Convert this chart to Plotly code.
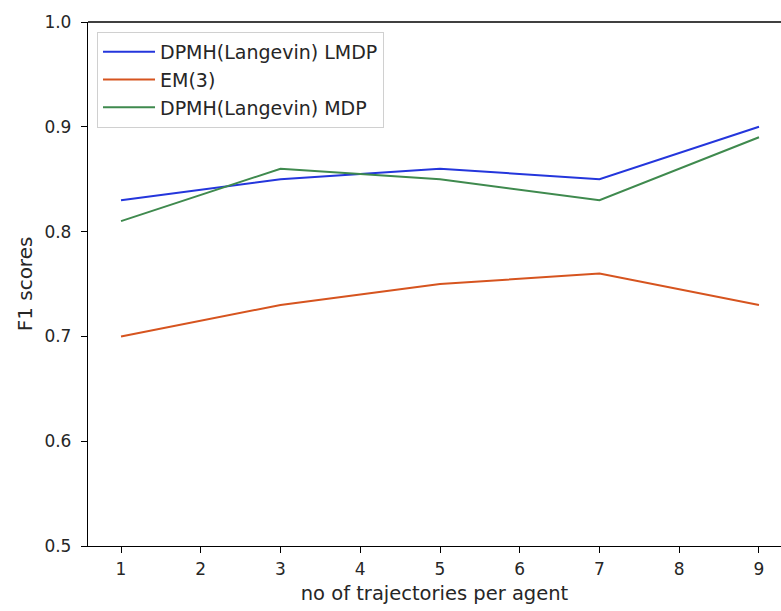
import plotly.graph_objects as go

x_vals = [1, 3, 5, 7, 9]
lmdp = [0.83, 0.85, 0.86, 0.85, 0.90]
em3 = [0.70, 0.73, 0.75, 0.76, 0.73]
mdp = [0.81, 0.86, 0.85, 0.83, 0.89]

names = ["DPMH(Langevin) LMDP", "EM(3)", "DPMH(Langevin) MDP"]
colors = ["#2436dc", "#d6541f", "#3f8a4e"]
series = [lmdp, em3, mdp]

fig = go.Figure()
for i, (n, c, s) in enumerate(zip(names, colors, series)):
    fig.add_trace(go.Scatter(x=x_vals, y=s, mode="lines", name=n,
                             line=dict(color=c, width=2), legendgroup=str(i)))

font_family = "DejaVu Sans"
fig.update_layout(
    width=781, height=611,
    margin=dict(l=88, r=0, t=22, b=65),
    plot_bgcolor="white", paper_bgcolor="white",
    font=dict(family=font_family, size=17, color="#262626"),
    showlegend=True,
    legend=dict(x=0.013, y=0.981, xanchor="left", yanchor="top",
                bgcolor="rgba(255,255,255,0.8)", bordercolor="#d0d0d0", borderwidth=1,
                font=dict(size=19, color="#262626"), tracegroupgap=5,
                itemwidth=52, traceorder="normal"),
    xaxis=dict(range=[0.586, 9.276], tickvals=list(range(1, 10)),
               showgrid=False, zeroline=False, showline=True, linecolor="black", linewidth=1.3,
               mirror=False, ticks="outside", ticklen=6, tickcolor="black",
               tickfont=dict(size=17), ticklabelstandoff=1,
               title=dict(text="no of trajectories per agent", standoff=8, font=dict(size=19.5))),
    yaxis=dict(range=[0.5, 1.0], tickvals=[0.5, 0.6, 0.7, 0.8, 0.9, 1.0],
               ticktext=["0.5", "0.6", "0.7", "0.8", "0.9", "1.0"],
               showgrid=False, zeroline=False, showline=True, linecolor="black", linewidth=1.3,
               ticks="outside", ticklen=6, tickcolor="black",
               tickfont=dict(size=17), ticklabelstandoff=6,
               title=dict(text="F1 scores", standoff=6, font=dict(size=20))),
)
fig.add_shape(type="line", xref="paper", yref="paper", x0=0, x1=1, y0=1, y1=1,
              line=dict(color="black", width=1.3))
fig.write_html("out.html")
